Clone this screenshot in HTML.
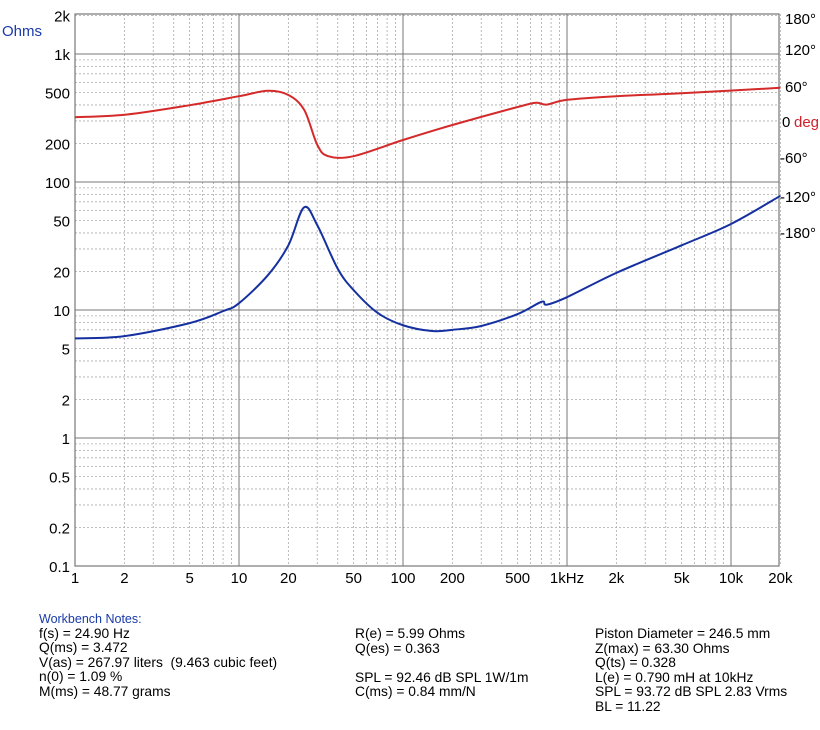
<!DOCTYPE html>
<html><head><meta charset="utf-8"><style>
body{margin:0;background:#fff;font-family:"Liberation Sans",sans-serif;}
#wrap{position:relative;width:820px;height:730px;overflow:hidden;}
.notes{position:absolute;font-size:13.8px;line-height:14.6px;color:#000;white-space:pre;}
</style></head><body>
<div id="wrap">
<svg id="chart" width="820" height="600" style="position:absolute;left:0;top:0"></svg>
<div class="notes" style="left:39px;top:612px"><span style="color:#1a3aa8;font-size:12.5px">Workbench Notes:</span>
f(s) = 24.90 Hz
Q(ms) = 3.472
V(as) = 267.97 liters  (9.463 cubic feet)
n(0) = 1.09 %
M(ms) = 48.77 grams</div>
<div class="notes" style="left:355px;top:627px">R(e) = 5.99 Ohms
Q(es) = 0.363

SPL = 92.46 dB SPL 1W/1m
C(ms) = 0.84 mm/N</div>
<div class="notes" style="left:595px;top:627px">Piston Diameter = 246.5 mm
Z(max) = 63.30 Ohms
Q(ts) = 0.328
L(e) = 0.790 mH at 10kHz
SPL = 93.72 dB SPL 2.83 Vrms
BL = 11.22</div>
</div>
<script>
const freqTicks=[1,2,5,10,20,50,100,200,500,1000,2000,5000,10000,20000];
const freqTickLabels=["1","2","5","10","20","50","100","200","500","1kHz","2k","5k","10k","20k"];
const ohmTicks=[2000,1000,500,200,100,50,20,10,5,2,1,0.5,0.2,0.1];
const ohmTickLabels=["2k","1k","500","200","100","50","20","10","5","2","1","0.5","0.2","0.1"];
const phaseTicks=[180,120,60,0,-60,-120,-180];
const phaseTickLabels=["180°","120°","60°","0","-60°","-120°","-180°"];
const impFreq=[1,2,5,8,10,15,20,24.9,30,40,50,70,100,150,200,300,500,700,750,1000,2000,5000,10000,20000];
const impOhms=[6.0,6.25,7.9,9.8,11.3,18.7,32,63.3,46,21,14.3,9.5,7.6,6.85,7.0,7.5,9.3,11.6,11.0,12.6,19.5,32,47,78];
const phFreq=[1,2,5,10,15,20,25,30,35,50,100,200,500,650,750,1000,2000,5000,20000];
const phDeg=[8,12,28,43,52,45,20,-38,-57,-57,-30,-5,25,32,29,37,43,48,57];

const L=75,R=779,T=14,B=566,DEC=164;
const xf=f=>L+Math.log10(f)*DEC;
const yo=o=>438-Math.log10(o)*128;
const yp=p=>122-p*0.6;
const svg=document.getElementById('chart');
const NS='http://www.w3.org/2000/svg';
function mk(tag,attrs){const e=document.createElementNS(NS,tag);for(const k in attrs)e.setAttribute(k,attrs[k]);svg.appendChild(e);return e;}
for(let d=0;d<5;d++)for(let m=2;m<=9;m++){const f=m*Math.pow(10,d);if(f>20000)continue;
 const l=mk('line',{x1:xf(f),x2:xf(f),y1:T,y2:B,stroke:'#aaa','stroke-width':0.8,'stroke-dasharray':'2,2'});
 }
for(let d=-1;d<4;d++)for(let m=2;m<=9;m++){const o=m*Math.pow(10,d);if(o>2000)continue;
 const l=mk('line',{x1:L,x2:R,y1:yo(o),y2:yo(o),stroke:'#aaa','stroke-width':0.8,'stroke-dasharray':'2,2'});
 }
[10,100,1000,10000].forEach(f=>{const l=mk('line',{x1:xf(f),x2:xf(f),y1:T,y2:B,stroke:'#777','stroke-width':1});
 });
[1000,100,10,1].forEach(o=>{const l=mk('line',{x1:L,x2:R,y1:yo(o),y2:yo(o),stroke:'#777','stroke-width':1});
 });
const fr=mk('rect',{x:L,y:T,width:R-L,height:B-T,fill:'none',stroke:'#777','stroke-width':1.2});

freqTicks.forEach((f,i)=>{const t=mk('text',{x:xf(f),y:583,'text-anchor':'middle','font-size':15,fill:'#000'});t.textContent=freqTickLabels[i];
 });
ohmTicks.forEach((o,i)=>{const t=mk('text',{x:70,y:yo(o)+6,'text-anchor':'end','font-size':15,fill:'#000'});t.textContent=ohmTickLabels[i];
 });
const phaseLabelY=[24,55,92,127,163,202,238];
phaseTicks.forEach((p,i)=>{const t=mk('text',{x:i==3?782:(p<0?780:785),y:phaseLabelY[i],'text-anchor':'start','font-size':15,fill:'#000'});t.textContent=phaseTickLabels[i];
 });
const dg=mk('text',{x:794,y:127,'font-size':15,fill:'#d0202a'});dg.textContent='deg';

const oh=mk('text',{x:2,y:36,'font-size':15,fill:'#1a3aa8'});oh.textContent='Ohms';

function path(px){let d='M'+px[0][0]+','+px[0][1];
 for(let i=0;i<px.length-1;i++){const p0=px[Math.max(0,i-1)],p1=px[i],p2=px[i+1],p3=px[Math.min(px.length-1,i+2)];
  const c1=[p1[0]+(p2[0]-p0[0])/6,p1[1]+(p2[1]-p0[1])/6],c2=[p2[0]-(p3[0]-p1[0])/6,p2[1]-(p3[1]-p1[1])/6];
  d+=' C'+c1[0]+','+c1[1]+' '+c2[0]+','+c2[1]+' '+p2[0]+','+p2[1];}
 return d;}
const ph=mk('path',{d:path(phFreq.map((f,i)=>[xf(f),yp(phDeg[i])])),fill:'none',stroke:'#d42a2a','stroke-width':2});

const im=mk('path',{d:path(impFreq.map((f,i)=>[xf(f),yo(impOhms[i])])),fill:'none',stroke:'#1530a0','stroke-width':2});

</script>
</body></html>
